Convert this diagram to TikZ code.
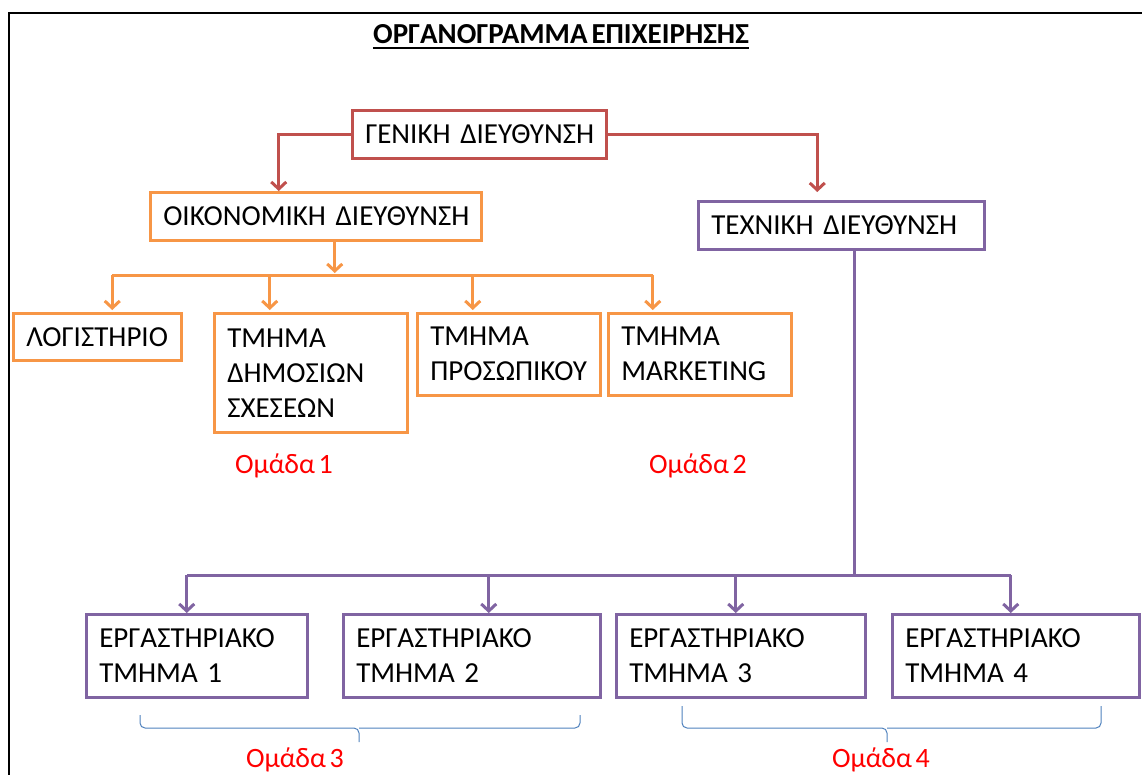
\documentclass[tikz,border=0pt]{standalone}
\usepackage{fontspec}
\setmainfont{Carlito}[WordSpace=0.6]
\usepackage{xcolor}
\definecolor{orgRed}{HTML}{C0504D}
\definecolor{orgOrange}{HTML}{F79646}
\definecolor{orgPurple}{HTML}{8064A2}
\definecolor{orgBlue}{HTML}{4F81BD}
\usepackage{tikz}
\usetikzlibrary{arrows.meta,calc}

\newcommand\boxFont{\fontsize{29}{35}\selectfont}
\newcommand\groupFont{\fontsize{28}{30}\selectfont}

\begin{document}
\begin{tikzpicture}[x=1pt, y=-1pt,
  orgBox/.style={draw, line width=2.5pt, fill=white, anchor=north west, inner xsep=13pt, inner ysep=0pt, align=left, font=\boxFont},
  redBox/.style={orgBox, draw=orgRed},
  orangeBox/.style={orgBox, draw=orgOrange},
  purpleBox/.style={orgBox, draw=orgPurple},
  link/.style={line width=3pt, -{Straight Barb[length=7pt,width=15pt]}},
  redLink/.style={link, draw=orgRed},
  orangeLink/.style={link, draw=orgOrange},
  purpleLink/.style={link, draw=orgPurple},
  groupLabel/.style={text=red, font=\groupFont, anchor=base, inner sep=0pt},
  brace/.style={draw=orgBlue, line width=1pt, rounded corners=5pt},
]

\useasboundingbox (0,0) rectangle (1142,774);
\clip (0,0) rectangle (1142,774);

% page frame (only top and left edge are in view)
\draw[line width=2pt] (9,800) -- (9,13) -- (1170,13);

% title
\node[font=\fontsize{29}{30}\selectfont\bfseries, anchor=base, inner sep=0pt] (title) at (561,43) {ΟΡΓΑΝΟΓΡΑΜΜΑ ΕΠΙΧΕΙΡΗΣΗΣ};
\draw[line width=1.6pt] ([yshift=-5pt]title.base west) -- ([yshift=-5pt]title.base east);

% top level
\node[redBox, text width=228pt, minimum height=48pt] (gen) at (351,109) {ΓΕΝΙΚΗ~ΔΙΕΥΘΥΝΣΗ};
\node[orangeBox, text width=305pt, minimum height=48pt] (oik) at (149,191) {ΟΙΚΟΝΟΜΙΚΗ~ΔΙΕΥΘΥΝΣΗ};
\node[purpleBox, text width=260pt, minimum height=48pt] (tex) at (697,200) {ΤΕΧΝΙΚΗ~ΔΙΕΥΘΥΝΣΗ};

\draw[redLink] (gen.west) -| ([xshift=-37pt]oik.north);
\draw[redLink, shorten >=8pt] (gen.east) -| ([xshift=-24pt]tex.north);

% economic departments
\foreach \n/\x/\w/\h/\txt in {log/12/168/47/ΛΟΓΙΣΤΗΡΙΟ,
    dim/213/193/119/{ΤΜΗΜΑ\\ΔΗΜΟΣΙΩΝ\\ΣΧΕΣΕΩΝ},
    pro/416/183/82/{ΤΜΗΜΑ\\ΠΡΟΣΩΠΙΚΟΥ},
    mar/607/183/82/{ΤΜΗΜΑ\\MARKETING}} {
  \pgfmathsetmacro{\tw}{\w-26}
  \node[orangeBox, text width=\tw pt, minimum height=\h pt] (\n) at (\x,312) {\txt};
}

\coordinate (obar) at (0,275);
\draw[orangeLink, shorten >=2pt] ([xshift=19pt]oik.south) -- ([xshift=19pt]oik.south |- obar);
\draw[orangeLink, -] ([xshift=15pt]log.north |- obar) -- ([xshift=-47pt]mar.north |- obar);
\foreach \n/\dx in {log/15, dim/-41, pro/-36, mar/-47} {
  \draw[orangeLink, shorten >=2pt] ([xshift=\dx pt]\n.north |- obar) -- ([xshift=\dx pt]\n.north);
}

% laboratory departments
\foreach \n/\x/\w/\num in {erg1/85/221/1, erg2/342/257/2, erg3/615/249/3, erg4/891/247/4} {
  \pgfmathsetmacro{\tw}{\w-26}
  \node[purpleBox, text width=\tw pt, minimum height=83pt] (\n) at (\x,613) {ΕΡΓΑΣΤΗΡΙΑΚΟ\\ΤΜΗΜΑ \num};
}

\coordinate (pbar) at (0,575);
\draw[purpleLink, -] ([xshift=13pt]tex.south) -- ([xshift=13pt]tex.south |- pbar);
\draw[purpleLink, -] ([xshift=-10pt]erg1.north |- pbar) -- ([xshift=-5pt]erg4.north |- pbar);
\foreach \n/\dx in {erg1/-10, erg2/17, erg3/-5, erg4/-5} {
  \draw[purpleLink] ([xshift=\dx pt]\n.north |- pbar) -- ([xshift=\dx pt]\n.north);
}

% groups
\node[groupLabel] (g1) at (284,473) {Ομάδα 1};
\node[groupLabel] (g2) at (698,473) {Ομάδα 2};

\draw[brace] (140,715) |- (359,728) -- (359,742);
\draw[brace] (580,715) |- (359,728);
\draw[brace] (682,706) |- (887,728) -- (887,742);
\draw[brace] (1101,706) |- (887,728);

\node[groupLabel] (g3) at (295,767) {Ομάδα 3};
\node[groupLabel] (g4) at (881,767) {Ομάδα 4};

\end{tikzpicture}
\end{document}
